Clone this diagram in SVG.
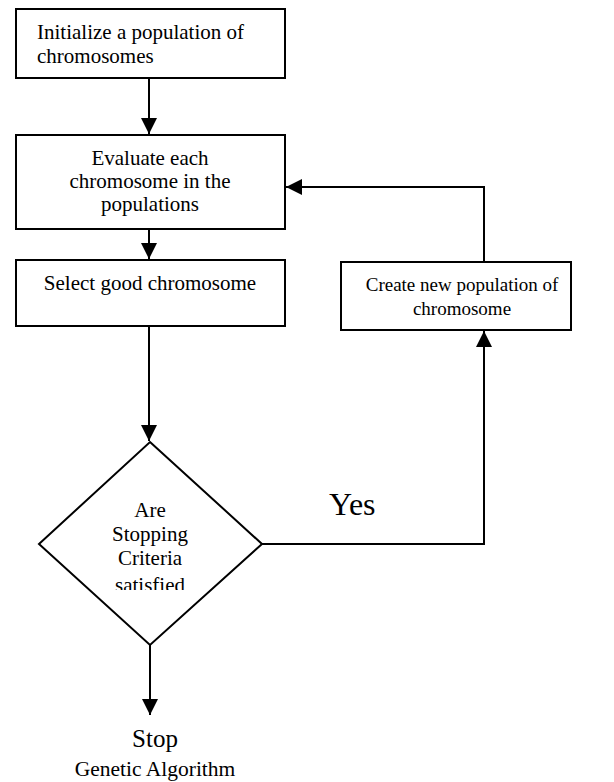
<svg xmlns="http://www.w3.org/2000/svg" width="614" height="782" viewBox="0 0 614 782">
<style>
.box{fill:#fff;stroke:#000;stroke-width:2}
.t{font-family:"Liberation Serif","Times New Roman",serif;font-size:21px;fill:#000}
.c{text-anchor:middle}
.ln{fill:none;stroke:#000;stroke-width:2}
</style>
<defs>
<marker id="ah" viewBox="0 0 16 16" refX="16" refY="8" markerWidth="16" markerHeight="16" markerUnits="userSpaceOnUse" orient="auto">
<path d="M0,0 L16,8 L0,16 Z" fill="#000"/>
</marker>
<clipPath id="dclip"><rect x="0" y="420" width="614" height="170"/></clipPath>
</defs>
<rect width="614" height="782" fill="#fff"/>
<g id="connectors">
<line class="ln" x1="149" y1="78" x2="149" y2="134" marker-end="url(#ah)"/>
<line class="ln" x1="149" y1="229" x2="149" y2="259" marker-end="url(#ah)"/>
<line class="ln" x1="149" y1="326" x2="149" y2="441" marker-end="url(#ah)"/>
<polyline class="ln" points="262,544 484,544 484,331" marker-end="url(#ah)"/>
<polyline class="ln" points="484,262 484,187 286,187" marker-end="url(#ah)"/>
<line class="ln" x1="150" y1="645" x2="150" y2="715" marker-end="url(#ah)"/>
</g>
<g id="init">
<rect class="box" x="16" y="9" width="269" height="69"/>
<text class="t" x="37" y="39">Initialize a population of</text>
<text class="t" x="37" y="63">chromosomes</text>
</g>
<g id="evaluate">
<rect class="box" x="16" y="135" width="269" height="94"/>
<text class="t c" x="150" y="165">Evaluate each</text>
<text class="t c" x="150" y="188">chromosome in the</text>
<text class="t c" x="150" y="211">populations</text>
</g>
<g id="select">
<rect class="box" x="16" y="260" width="269" height="66"/>
<text class="t c" x="150" y="290">Select good chromosome</text>
</g>
<g id="create">
<rect class="box" x="341" y="262" width="230" height="68"/>
<text class="t c" x="462" y="291" style="font-size:19px">Create new population of</text>
<text class="t c" x="462" y="315" style="font-size:19px">chromosome</text>
</g>
<g id="decision">
<polygon class="box" points="150,442 262,544 150,645 39,544"/>
<g clip-path="url(#dclip)">
<text class="t c" x="150" y="517">Are</text>
<text class="t c" x="150" y="541">Stopping</text>
<text class="t c" x="150" y="565">Criteria</text>
<text class="t c" x="150" y="592">satisfied</text>
</g>
</g>
<g id="yes-label">
<text class="t" x="329" y="515" style="font-size:32px">Yes</text>
</g>
<g id="stop">
<text class="t c" x="155" y="747" style="font-size:25px">Stop</text>
<text class="t c" x="155" y="776" style="font-size:21.5px">Genetic Algorithm</text>
</g>
</svg>
